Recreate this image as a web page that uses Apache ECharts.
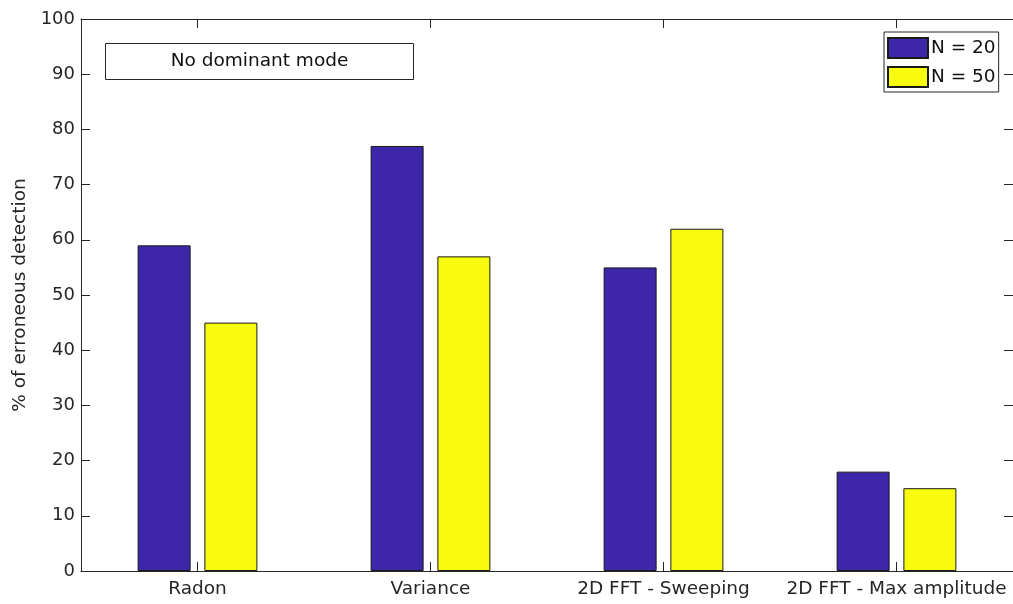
<!DOCTYPE html>
<html>
<head>
<meta charset="utf-8">
<title>Erroneous detection rate by method</title>
<script src="https://cdn.jsdelivr.net/npm/echarts@6/dist/echarts.min.js"></script>
<style>
  html, body { margin: 0; padding: 0; background: #ffffff; }
  #chart { width: 1013px; height: 604px; }
</style>
</head>
<body>
<div id="chart"></div>
<script>
// Detection methods compared
const methods = ['Radon', 'Variance', '2D FFT - Sweeping', '2D FFT - Max amplitude'];
// Percentage of erroneous detections for each sample size
const n20 = [59, 77, 55, 18];
const n50 = [45, 57, 62, 15];
const seriesNames = ['N = 20', 'N = 50'];
const yTicks = [0, 10, 20, 30, 40, 50, 60, 70, 80, 90, 100];

const FONT = 'DejaVu Sans';
const AXIS_COLOR = '#262626';

const chart = echarts.init(document.getElementById('chart'), null, { renderer: 'canvas' });

const barStyle = (color) => ({
  color: color,
  borderColor: '#1a1a1a',
  borderWidth: 1
});

chart.setOption({
  animation: false,
  backgroundColor: '#ffffff',
  textStyle: { fontFamily: FONT },
  grid: { left: 81, top: 19, width: 933, height: 552, containLabel: false },
  legend: {
    orient: 'vertical',
    left: 884,
    top: 32,
    data: seriesNames,
    icon: 'rect',
    itemWidth: 40,
    itemHeight: 20,
    itemGap: 7,
    padding: [5, 3, 4, 3],
    borderColor: '#262626',
    borderWidth: 1,
    backgroundColor: '#ffffff',
    textStyle: { fontFamily: FONT, fontSize: 18.5, color: '#111111', padding: [0, 0, 0, -2] },
    selectedMode: false
  },
  xAxis: [
    {
      type: 'category',
      data: methods,
      position: 'bottom',
      boundaryGap: true,
      axisLine: { show: true, onZero: false, lineStyle: { color: AXIS_COLOR, width: 1 } },
      axisTick: { show: true, inside: true, length: 9, alignWithLabel: true, lineStyle: { color: AXIS_COLOR } },
      axisLabel: { fontFamily: FONT, fontSize: 18.5, color: AXIS_COLOR, margin: 9, interval: 0 },
      splitLine: { show: false }
    },
    {
      type: 'category',
      data: methods,
      position: 'top',
      boundaryGap: true,
      axisLine: { show: true, onZero: false, lineStyle: { color: AXIS_COLOR, width: 1 } },
      axisTick: { show: true, inside: true, length: 9, alignWithLabel: true, lineStyle: { color: AXIS_COLOR } },
      axisLabel: { show: false },
      splitLine: { show: false }
    }
  ],
  yAxis: [
    {
      type: 'value',
      min: 0,
      max: 100,
      interval: 10,
      position: 'left',
      name: '% of erroneous detection',
      nameLocation: 'middle',
      nameGap: 50,
      nameTextStyle: { fontFamily: FONT, fontSize: 18.5, color: AXIS_COLOR },
      axisLine: { show: true, onZero: false, lineStyle: { color: AXIS_COLOR, width: 1 } },
      axisTick: { show: true, inside: true, length: 9, lineStyle: { color: AXIS_COLOR } },
      axisLabel: {
        fontFamily: FONT, fontSize: 18, color: AXIS_COLOR, margin: 6,
        customValues: yTicks
      },
      splitLine: { show: false }
    },
    {
      type: 'value',
      min: 0,
      max: 100,
      interval: 10,
      position: 'right',
      axisLine: { show: true, onZero: false, lineStyle: { color: AXIS_COLOR, width: 1 } },
      axisTick: { show: true, inside: true, length: 9, lineStyle: { color: AXIS_COLOR } },
      axisLabel: { show: false },
      splitLine: { show: false }
    }
  ],
  series: [
    {
      name: seriesNames[0],
      type: 'bar',
      data: n20,
      barWidth: 53,
      barGap: '26%',
      itemStyle: barStyle('#3e26a8')
    },
    {
      name: seriesNames[1],
      type: 'bar',
      data: n50,
      barWidth: 53,
      barGap: '26%',
      itemStyle: barStyle('#f9fb0e')
    }
  ],
  graphic: [
    {
      type: 'group',
      left: 105,
      top: 43,
      children: [
        {
          type: 'rect',
          shape: { x: 0, y: 0, width: 308, height: 36 },
          style: { fill: '#ffffff', stroke: '#262626', lineWidth: 1 }
        },
        {
          type: 'text',
          x: 154,
          y: 18,
          style: {
            text: 'No dominant mode',
            fontFamily: FONT,
            fontSize: 18.5,
            fill: '#111111',
            align: 'center',
            verticalAlign: 'middle'
          }
        }
      ]
    }
  ]
});
</script>
</body>
</html>
